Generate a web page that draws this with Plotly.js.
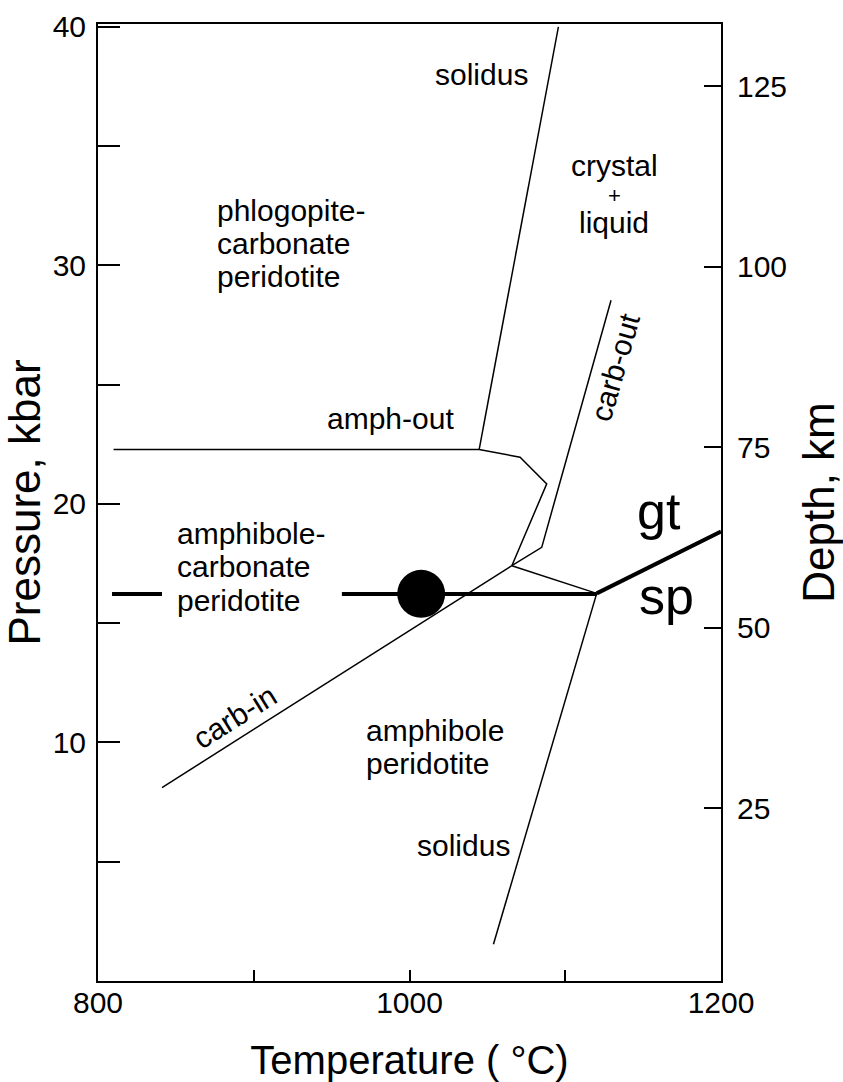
<!DOCTYPE html>
<html>
<head>
<meta charset="utf-8">
<script src="https://cdn.plot.ly/plotly-3.0.1.min.js"></script>
<style>html,body{margin:0;padding:0;background:#fff;}#chart{width:843px;height:1082px;}</style>
</head>
<body>
<div id="chart"></div>
<script>
// Phase boundaries: temperature (°C) and pressure (kbar)
const amphOutT = [810, 1044.7];
const amphOutP = [22.28, 22.28];
const solidusHighT = [1044.7, 1095.6];
const solidusHighP = [22.28, 40];
const amphBendT = [1044.7, 1071.0, 1088.1, 1065.7];
const amphBendP = [22.28, 21.96, 20.84, 17.41];
const carbOutT = [1129.4, 1084.9, 1065.7];
const carbOutP = [28.54, 18.18, 17.41];
const carbInT = [841.1, 1065.7];
const carbInP = [8.11, 17.41];
const linkT = [1065.7, 1120.2];
const linkP = [17.41, 16.25];
const solidusLowT = [1120.2, 1053.9];
const solidusLowP = [16.25, 1.54];
const gtSpT = [1120.2, 1200];
const gtSpP = [16.25, 18.84];
// thick isobar broken by label
const isobarT = [809, 841.1, null, 956.6, 1120.2];
const isobarP = [16.22, 16.22, null, 16.22, 16.22];
// sample point
const sampleT = [1007.5];
const sampleP = [16.23];

// axis ticks
const tempTicks = [800, 900, 1000, 1100, 1200];
const tempLabels = ['800', '', '1000', '', '1200'];
const presTicks = [5, 10, 15, 20, 25, 30, 35, 40];
const presLabels = ['', '10', '', '20', '', '30', '', '40'];
const depthTicks = [25, 50, 75, 100, 125];
const depthLabels = ['25', '50', '75', '100', '125'];

// field labels
const labelText = ['solidus', 'crystal', '+', 'liquid',
  'phlogopite-', 'carbonate', 'peridotite', 'amph-out',
  'amphibole-', 'carbonate', 'peridotite',
  'amphibole', 'peridotite', 'solidus', 'gt', 'sp', 'carb-out', 'carb-in'];
const labelT = [1046, 1131.3, 1131.3, 1131.3,
  875.3, 875.3, 875.3, 988,
  849.3, 849.3, 849.3,
  971.0, 971.0, 1034.4, 1160.5, 1165, 1132, 888.1];
const labelP = [38.0, 34.2, 32.95, 31.8,
  32.3, 30.91, 29.53, 23.6,
  18.75, 17.37, 15.95,
  10.49, 9.11, 5.7, 19.7, 16.15, 25.72, 11.08];

function seg(x, y, w) {
  return {x: x, y: y, type: 'scatter', mode: 'lines', line: {color: '#000', width: w || 1.5},
    hoverinfo: 'skip', showlegend: false};
}
const traces = [
  seg(amphOutT, amphOutP),
  seg(solidusHighT, solidusHighP),
  seg(amphBendT, amphBendP),
  seg(carbOutT, carbOutP),
  seg(carbInT, carbInP),
  seg(linkT, linkP),
  seg(solidusLowT, solidusLowP),
  seg(gtSpT, gtSpP, 4),
  Object.assign(seg(isobarT, isobarP, 4), {connectgaps: false}),
  {x: sampleT, y: sampleP, type: 'scatter', mode: 'markers',
    marker: {color: '#000', size: 48, line: {width: 0}}, hoverinfo: 'skip', showlegend: false},
  {x: [], y: [], type: 'scatter', mode: 'lines', yaxis: 'y2', hoverinfo: 'skip', showlegend: false}
];

const fontFam = 'Liberation Sans, Arial, Helvetica, sans-serif';
const annotations = labelText.map(function (t, i) {
  const a = {x: labelT[i], y: labelP[i], xref: 'x', yref: 'y', text: t, showarrow: false,
    font: {family: fontFam, size: 30, color: '#000'}, xanchor: 'center', yanchor: 'middle'};
  if ([4, 5, 6, 8, 9, 10, 11, 12].indexOf(i) >= 0) { a.xanchor = 'left'; }
  if (i === 2) { a.font.size = 22; }
  if (i === 14 || i === 15) { a.font.size = 52; }
  if (i === 16) { a.textangle = -74; }
  if (i === 17) { a.textangle = -32; }
  return a;
});

const axisCommon = {showline: true, linecolor: '#000', linewidth: 2, ticks: 'inside',
  tickcolor: '#000', tickwidth: 2, showgrid: false, zeroline: false,
  tickfont: {family: fontFam, size: 30, color: '#000'}, fixedrange: true};

const layout = {
  width: 843, height: 1082,
  margin: {l: 98, r: 122, t: 24, b: 101, pad: 0},
  paper_bgcolor: '#fff', plot_bgcolor: '#fff',
  font: {family: fontFam, color: '#000'},
  showlegend: false,
  xaxis: Object.assign({}, axisCommon, {
    range: [800, 1200], tickmode: 'array', tickvals: tempTicks, ticktext: tempLabels,
    ticklen: 11, mirror: true, ticklabelstandoff: -6,
    title: {text: 'Temperature ( °C)', font: {family: fontFam, size: 40, color: '#000'}, standoff: 30}
  }),
  yaxis: Object.assign({}, axisCommon, {
    range: [0, 40.12], tickmode: 'array', tickvals: presTicks, ticktext: presLabels,
    ticklen: 22, ticklabelstandoff: 4,
    title: {text: 'Pressure, kbar', font: {family: fontFam, size: 44, color: '#000'}, standoff: 6}
  }),
  yaxis2: Object.assign({}, axisCommon, {
    overlaying: 'y', side: 'right', anchor: 'x',
    range: [1.06, 133.6], tickmode: 'array', tickvals: depthTicks, ticktext: depthLabels,
    ticklen: 17, ticklabelstandoff: 8,
    title: {text: 'Depth, km', font: {family: fontFam, size: 44, color: '#000'}, standoff: 18}
  }),
  annotations: annotations
};

Plotly.newPlot('chart', traces, layout, {staticPlot: true, displayModeBar: false});
</script>
</body>
</html>
